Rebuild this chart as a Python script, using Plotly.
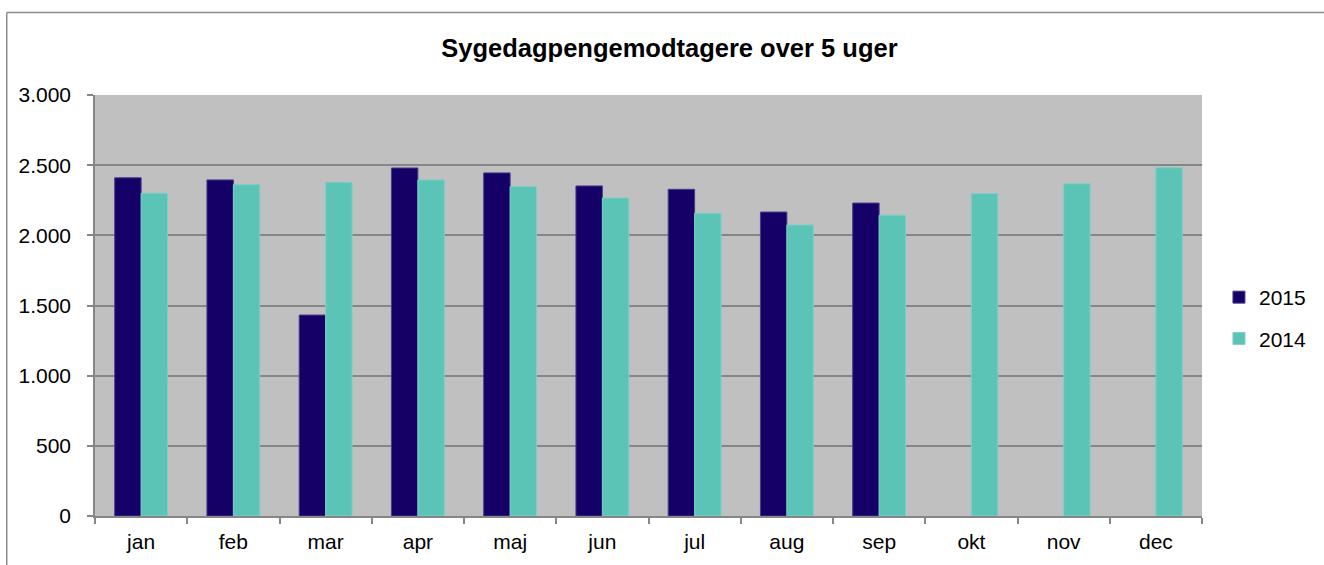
import plotly.graph_objects as go

months = ["jan", "feb", "mar", "apr", "maj", "jun", "jul", "aug", "sep", "okt", "nov", "dec"]
values_2015 = [2410, 2395, 1432, 2480, 2445, 2352, 2328, 2166, 2230, None, None, None]
values_2014 = [2300, 2361, 2378, 2395, 2347, 2266, 2157, 2074, 2143, 2297, 2368, 2482]
y_ticks = [0, 500, 1000, 1500, 2000, 2500, 3000]

W, H = 1324, 565
L, R, T, B = 95, 1205, 95, 516

def px_x(px):
    return (px - L) / (R - L)

def px_y(py):
    return (B - py) / (B - T)

FONT = "Liberation Sans, Arial, sans-serif"

fig = go.Figure()
fig.add_trace(go.Bar(
    x=months, y=values_2015, name="2015", legendgroup="g2015",
    marker=dict(color="#140066", line=dict(color="#4a3d8a", width=1)),
))
fig.add_trace(go.Bar(
    x=months, y=values_2014, name="2014", legendgroup="g2014",
    marker=dict(color="#5BC4B6", line=dict(color="#7dd0c5", width=1)),
))

fig.update_layout(
    width=W, height=H,
    margin=dict(l=L, r=W - R, t=T, b=H - B, pad=0),
    paper_bgcolor="white",
    plot_bgcolor="#C0C0C0",
    separators=",.",
    barmode="group",
    bargap=0.427,
    bargroupgap=0,
    font=dict(family=FONT, size=21, color="black"),
    title=dict(
        text="<b>Sygedagpengemodtagere over 5 uger</b>",
        font=dict(family=FONT, size=25.5, color="black"),
        x=px_x(671), xref="paper", xanchor="center",
        y=1 - 48 / H, yref="container", yanchor="middle",
    ),
    legend=dict(
        x=px_x(1222), y=px_y(318), xref="paper", yref="paper",
        xanchor="left", yanchor="middle",
        font=dict(family=FONT, size=21, color="black"),
        bgcolor="rgba(0,0,0,0)",
        itemwidth=30,
        tracegroupgap=11,
    ),
    xaxis=dict(
        showline=True, linecolor="#868686", linewidth=1.5,
        ticks="outside", tickson="boundaries", ticklen=6, tickcolor="#868686", tickwidth=1.5,
        showgrid=False, tickfont=dict(family=FONT, size=21, color="black"),
        ticklabelstandoff=6,
    ),
    yaxis=dict(
        range=[0, 3000], tickvals=y_ticks, tickformat=",d",
        showline=True, linecolor="#868686", linewidth=1.5,
        ticks="outside", ticklen=6, tickcolor="#868686", tickwidth=1.5,
        showgrid=True, gridcolor="#868686", gridwidth=1.5,
        zeroline=False,
        tickfont=dict(family=FONT, size=21, color="black"),
        ticklabelstandoff=12,
    ),
    shapes=[
        dict(type="line", xref="paper", yref="paper",
             x0=px_x(6.5), y0=px_y(12.5), x1=px_x(1330), y1=px_y(12.5),
             line=dict(color="#8c8c8c", width=1.5)),
        dict(type="line", xref="paper", yref="paper",
             x0=px_x(6.5), y0=px_y(12.5), x1=px_x(6.5), y1=px_y(570),
             line=dict(color="#8c8c8c", width=1.5)),
    ],
)

fig.write_html(
    "out.html",
    config={"displayModeBar": False},
    post_script="document.body.style.margin='0';document.body.style.overflow='hidden';",
)
